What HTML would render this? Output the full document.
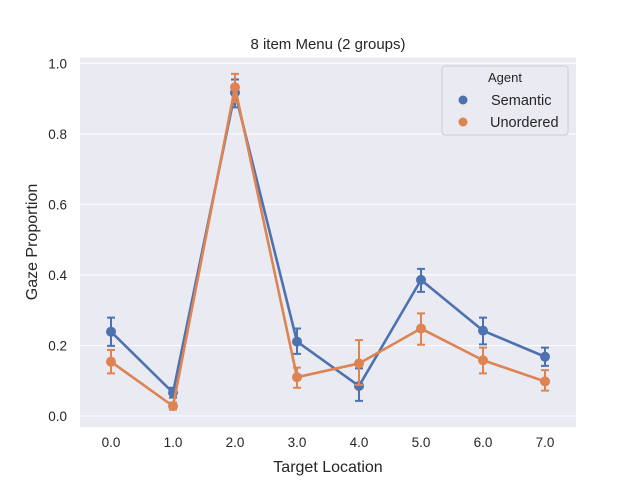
<!DOCTYPE html>
<html><head><meta charset="utf-8"><style>
body{margin:0;background:#fff;font-family:"Liberation Sans","DejaVu Sans",sans-serif}
svg text{font-family:"Liberation Sans","DejaVu Sans",sans-serif;fill:#262626}
</style></head><body>
<svg id="chart" width="640" height="480" xmlns="http://www.w3.org/2000/svg">
<rect x="80" y="57.6" width="496" height="369.6" fill="#eaeaf2"/>
<g id="grid"></g><g id="series"></g>
<text x="328" y="49" text-anchor="middle" font-size="15">8 item Menu (2 groups)</text>
<text x="328" y="472" text-anchor="middle" font-size="16">Target Location</text>
<text transform="translate(37,242) rotate(-90)" text-anchor="middle" font-size="16">Gaze Proportion</text>
<g>
<rect x="442" y="66" width="126" height="69" rx="3" fill="#eaeaf2" stroke="#cccccc" fill-opacity="0.8"/>
<text x="505" y="82" text-anchor="middle" font-size="13">Agent</text>
<circle cx="463" cy="100" r="4.5" fill="#4c72b0"/>
<text x="491" y="105" font-size="14.5">Semantic</text>
<circle cx="463" cy="122" r="4.5" fill="#dd8452"/>
<text x="490" y="127" font-size="14.5">Unordered</text>
</g>
</svg>
<script>
const categories=["0.0","1.0","2.0","3.0","4.0","5.0","6.0","7.0"];
const yTicks=[0,0.2,0.4,0.6,0.8,1.0];
const semantic=[0.239,0.066,0.917,0.211,0.085,0.386,0.242,0.168];
const semanticLo=[0.199,0.052,0.875,0.176,0.043,0.352,0.203,0.142];
const semanticHi=[0.279,0.080,0.954,0.248,0.135,0.417,0.279,0.194];
const unordered=[0.154,0.028,0.932,0.110,0.149,0.248,0.158,0.098];
const unorderedLo=[0.121,0.018,0.890,0.080,0.088,0.202,0.121,0.072];
const unorderedHi=[0.187,0.038,0.970,0.137,0.215,0.291,0.194,0.130];
const NS="http://www.w3.org/2000/svg";
const xs=i=>111+i*62;
const ys=v=>416-352.7*v;
function mk(t,a,p){const e=document.createElementNS(NS,t);for(const k in a)e.setAttribute(k,a[k]);p.appendChild(e);return e;}
const grid=document.getElementById('grid'),svg=document.getElementById('chart'),ser=document.getElementById('series');
yTicks.forEach(v=>{
 const l=mk('line',{x1:80,x2:576,y1:ys(v),y2:ys(v),stroke:'#fff','stroke-width':1},grid);
 
 
 const t=mk('text',{x:67,y:ys(v)+5,'text-anchor':'end','font-size':13.5},svg);
 t.textContent=v.toFixed(1);
 
 
});
categories.forEach((c,i)=>{
 const t=mk('text',{x:xs(i),y:447,'text-anchor':'middle','font-size':13.5},svg);
 t.textContent=c;
 
 
});
function draw(vals,lo,hi,color,name){
 const g=mk('g',{},ser);
 
 
 vals.forEach((v,i)=>{
  const e=mk('path',{d:`M${xs(i)} ${ys(lo[i])}V${ys(hi[i])}M${xs(i)-4} ${ys(lo[i])}h8M${xs(i)-4} ${ys(hi[i])}h8`,stroke:color,'stroke-width':2,fill:'none'},g);
  
  
 });
 const pl=mk('polyline',{points:vals.map((v,i)=>xs(i)+','+ys(v)).join(' '),stroke:color,'stroke-width':2.6,fill:'none','stroke-linejoin':'round'},g);
 
 
 vals.forEach((v,i)=>{
  const c=mk('circle',{cx:xs(i),cy:ys(v),r:5,fill:color},g);
  
  
 });
}
draw(semantic,semanticLo,semanticHi,'#4c72b0','semantic');
draw(unordered,unorderedLo,unorderedHi,'#dd8452','unordered');
</script>
</body></html>
